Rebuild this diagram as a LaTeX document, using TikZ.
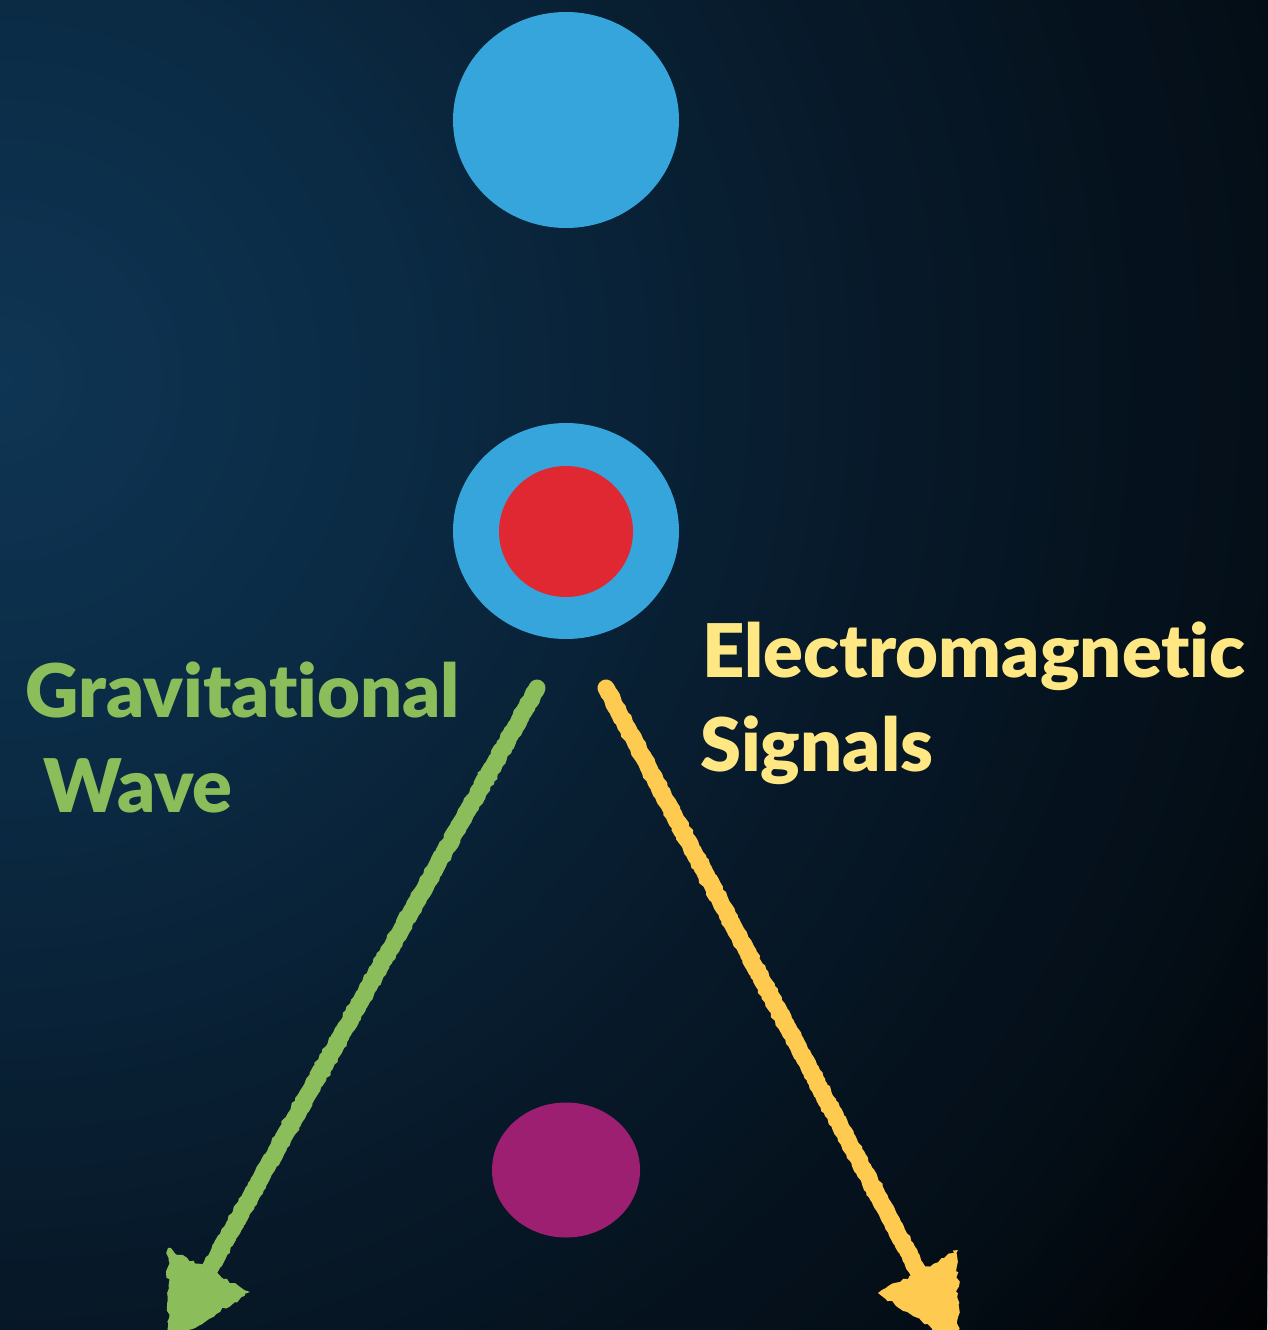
\documentclass[tikz,border=0pt]{standalone}
\usepackage{fontspec}
\setmainfont{Lato}[BoldFont={Lato Black}, Ligatures=NoCommon]
\usetikzlibrary{shapes.geometric,decorations.pathmorphing}
\definecolor{bgA}{RGB}{14,53,84}
\definecolor{bgB}{RGB}{11,43,69}
\definecolor{bgC}{RGB}{7,25,41}
\definecolor{bgD}{RGB}{4,14,23}
\definecolor{bgE}{RGB}{1,2,4}
\definecolor{cblue}{RGB}{53,165,220}
\definecolor{cred}{RGB}{224,40,50}
\definecolor{cpurple}{RGB}{157,31,114}
\definecolor{cgreen}{RGB}{139,190,90}
\definecolor{ctext}{RGB}{255,232,132}
\definecolor{cyellow}{RGB}{255,202,80}
\tikzset{
  disc/.style={ellipse, inner sep=0pt, draw=none},
  label/.style={inner sep=0pt, anchor=base west, font=\fontsize{74}{90}\selectfont\bfseries},
  chalkshaft/.style={line width=17pt, line cap=round, decorate,
    decoration={random steps, segment length=3pt, amplitude=0.8pt}},
  chalkhead/.style={decorate, decoration={random steps, segment length=4pt, amplitude=2pt}},
}
% radial background band: #1 outer radius, #2 inner radius, #3 outer colour, #4 inner colour, #5 steps
\newcommand{\bgband}[5]{%
  \foreach \i in {0,...,#5}{%
    \pgfmathsetmacro\rr{#1-((#1-#2)/#5)*\i}%
    \pgfmathtruncatemacro\pp{(100/#5)*\i}%
    \fill[#4!\pp!#3] (0,380) circle[radius=\rr pt];
  }%
}
\begin{document}
\begin{tikzpicture}[x=1pt,y=-1pt]
\pgfmathsetseed{7}
\useasboundingbox (0,0) rectangle (1267,1330);
\begin{scope}
\clip (0,0) rectangle (1267,1330);
% background
\fill[bgE] (0,0) rectangle (1267,1330);
\bgband{1590}{1300}{bgE}{bgD}{29}
\bgband{1300}{900}{bgD}{bgC}{40}
\bgband{900}{380}{bgC}{bgB}{52}
\bgband{380}{4}{bgB}{bgA}{38}
% discs
\node[disc, fill=cblue, minimum width=226pt, minimum height=216pt] (top) at (566,120) {};
\node[disc, fill=cblue, minimum width=226pt, minimum height=216pt] (mid) at (566,531) {};
\node[disc, fill=cred, minimum width=134pt, minimum height=131pt] (core) at (566,531.5) {};
\node[disc, fill=cpurple, minimum width=148pt, minimum height=135pt] (bottom) at (566,1170) {};
% labels
\node[label, text=cgreen] (gw1) at (25,717) {Gravitational};
\node[label, text=cgreen] (gw2) at (43,812) {Wave};
\node[label, text=ctext] (em1) at (702,677) {Electromagnetic};
\node[label, text=ctext] (em2) at (700,771) {Signals};
% arrow coordinates
\coordinate (gstart) at (537,688);
\coordinate (gbase) at (209,1270);
\coordinate (gA) at (168,1248);
\coordinate (gB) at (250,1292);
\coordinate (gtip) at (168,1345);
\coordinate (ystart) at (606,688);
\coordinate (ybase) at (918,1271);
\coordinate (yA) at (878,1293);
\coordinate (yB) at (958,1250);
\coordinate (ytip) at (958,1346);
% green arrow
\draw[cgreen, chalkshaft] (gstart) -- (gbase);
\fill[cgreen, chalkhead] (gA) -- (gB) -- (gtip) -- cycle;
% yellow arrow
\draw[cyellow, chalkshaft] (ystart) -- (ybase);
\fill[cyellow, chalkhead] (yA) -- (yB) -- (ytip) -- cycle;
\end{scope}
\end{tikzpicture}
\end{document}
